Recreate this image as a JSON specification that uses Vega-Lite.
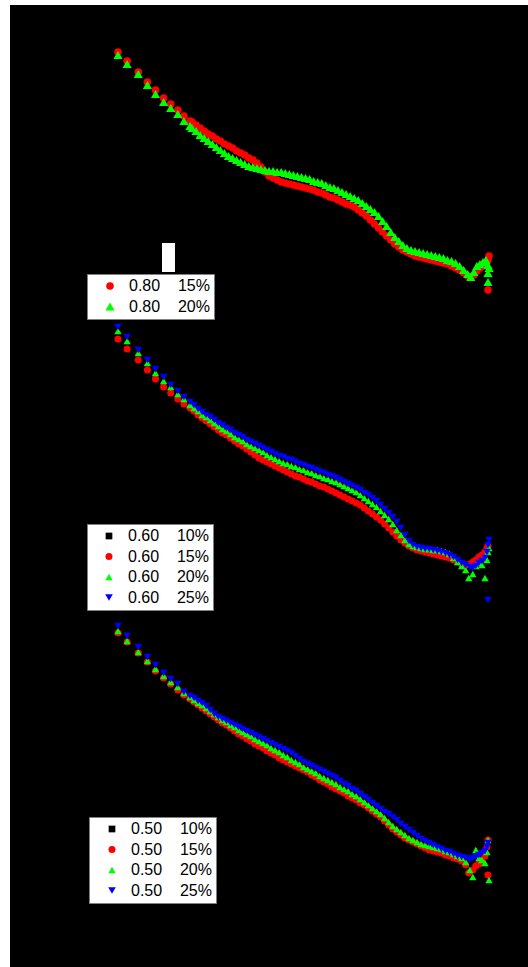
{
"$schema":"https://vega.github.io/schema/vega-lite/v6.json",
"background":"white",
"padding":{"left":10,"top":5,"right":0,"bottom":0},
"spacing":0,
"config":{"view":{"fill":"black","stroke":null}},
"resolve":{"scale":{"x":"independent","y":"independent","color":"independent","shape":"independent","size":"independent"}},
"vconcat":[
{"width":518,"height":315,
"layer":[
{"data":{"values":[{"x":160.4,"x2":173.2,"y":243,"y2":272}]},
"mark":{"type":"rect","color":"white"},
"encoding":{"x":{"field":"x","type":"quantitative","scale":{"domain":[10.46,521.46],"nice":false,"zero":false},"axis":null},"x2":{"field":"x2"},
"y":{"field":"y","type":"quantitative","scale":{"domain":[5,320],"reverse":true,"nice":false,"zero":false},"axis":null},"y2":{"field":"y2"}}},
{"data":{"values":[
{"s":"15%","x":117,"y":52},{"s":"15%","x":126,"y":61},{"s":"15%","x":137,"y":72},{"s":"15%","x":146,"y":82},{"s":"15%","x":154,"y":90},{"s":"15%","x":162,"y":98},{"s":"15%","x":169,"y":104},{"s":"15%","x":176,"y":110},{"s":"15%","x":182,"y":116},{"s":"15%","x":188,"y":121},
{"s":"15%","x":190,"y":122},{"s":"15%","x":194,"y":125},{"s":"15%","x":198,"y":128},{"s":"15%","x":202,"y":131},{"s":"15%","x":206,"y":134},{"s":"15%","x":210,"y":136},{"s":"15%","x":214,"y":139},{"s":"15%","x":218,"y":141},{"s":"15%","x":222,"y":144},{"s":"15%","x":226,"y":146},{"s":"15%","x":230,"y":148},{"s":"15%","x":234,"y":151},{"s":"15%","x":238,"y":153},{"s":"15%","x":242,"y":155},{"s":"15%","x":246,"y":158},{"s":"15%","x":250,"y":160},{"s":"15%","x":254,"y":163},{"s":"15%","x":258,"y":167},{"s":"15%","x":262,"y":172},{"s":"15%","x":266,"y":176},{"s":"15%","x":270,"y":178},{"s":"15%","x":274,"y":180},{"s":"15%","x":278,"y":182},{"s":"15%","x":282,"y":183},{"s":"15%","x":286,"y":184},{"s":"15%","x":290,"y":185},{"s":"15%","x":294,"y":186},{"s":"15%","x":298,"y":187},{"s":"15%","x":302,"y":188},{"s":"15%","x":306,"y":189},{"s":"15%","x":310,"y":190},{"s":"15%","x":314,"y":192},{"s":"15%","x":318,"y":193},{"s":"15%","x":322,"y":195},{"s":"15%","x":326,"y":197},{"s":"15%","x":330,"y":198},{"s":"15%","x":334,"y":200},{"s":"15%","x":338,"y":202},{"s":"15%","x":342,"y":204},{"s":"15%","x":346,"y":205},{"s":"15%","x":350,"y":207},{"s":"15%","x":354,"y":210},{"s":"15%","x":358,"y":213},{"s":"15%","x":362,"y":216},{"s":"15%","x":366,"y":220},{"s":"15%","x":370,"y":224},{"s":"15%","x":374,"y":228},{"s":"15%","x":378,"y":232},{"s":"15%","x":382,"y":236},{"s":"15%","x":386,"y":240},{"s":"15%","x":390,"y":244},{"s":"15%","x":394,"y":247},{"s":"15%","x":398,"y":250},{"s":"15%","x":402,"y":252},{"s":"15%","x":406,"y":254},{"s":"15%","x":410,"y":256},{"s":"15%","x":414,"y":257},{"s":"15%","x":418,"y":258},{"s":"15%","x":422,"y":259},{"s":"15%","x":426,"y":260},{"s":"15%","x":430,"y":261},{"s":"15%","x":434,"y":262},{"s":"15%","x":438,"y":263},{"s":"15%","x":442,"y":264},{"s":"15%","x":446,"y":266},{"s":"15%","x":450,"y":268},{"s":"15%","x":454,"y":270},{"s":"15%","x":458,"y":273},{"s":"15%","x":462,"y":276},{"s":"15%","x":465,"y":277},{"s":"15%","x":468,"y":275},{"s":"15%","x":471,"y":271},{"s":"15%","x":474,"y":268},{"s":"15%","x":477,"y":266},{"s":"15%","x":480,"y":263},{"s":"15%","x":482,"y":260},{"s":"15%","x":483,"y":256},{"s":"15%","x":482,"y":290},
{"s":"20%","x":117,"y":55},{"s":"20%","x":126,"y":64},{"s":"20%","x":137,"y":74},{"s":"20%","x":146,"y":85},{"s":"20%","x":154,"y":94},{"s":"20%","x":162,"y":102},{"s":"20%","x":169,"y":108},{"s":"20%","x":176,"y":114},{"s":"20%","x":182,"y":121},{"s":"20%","x":188,"y":126},
{"s":"20%","x":190,"y":128},{"s":"20%","x":194,"y":131},{"s":"20%","x":198,"y":135},{"s":"20%","x":202,"y":138},{"s":"20%","x":206,"y":141},{"s":"20%","x":210,"y":144},{"s":"20%","x":214,"y":147},{"s":"20%","x":218,"y":150},{"s":"20%","x":222,"y":153},{"s":"20%","x":226,"y":156},{"s":"20%","x":230,"y":158},{"s":"20%","x":234,"y":160},{"s":"20%","x":238,"y":162},{"s":"20%","x":242,"y":164},{"s":"20%","x":246,"y":166},{"s":"20%","x":250,"y":167},{"s":"20%","x":254,"y":168},{"s":"20%","x":258,"y":169},{"s":"20%","x":262,"y":170},{"s":"20%","x":266,"y":171},{"s":"20%","x":270,"y":171},{"s":"20%","x":274,"y":172},{"s":"20%","x":278,"y":172},{"s":"20%","x":282,"y":173},{"s":"20%","x":286,"y":174},{"s":"20%","x":290,"y":175},{"s":"20%","x":294,"y":176},{"s":"20%","x":298,"y":177},{"s":"20%","x":302,"y":178},{"s":"20%","x":306,"y":179},{"s":"20%","x":310,"y":181},{"s":"20%","x":314,"y":182},{"s":"20%","x":318,"y":183},{"s":"20%","x":322,"y":185},{"s":"20%","x":326,"y":187},{"s":"20%","x":330,"y":188},{"s":"20%","x":334,"y":190},{"s":"20%","x":338,"y":192},{"s":"20%","x":342,"y":194},{"s":"20%","x":346,"y":196},{"s":"20%","x":350,"y":198},{"s":"20%","x":354,"y":200},{"s":"20%","x":358,"y":203},{"s":"20%","x":362,"y":206},{"s":"20%","x":366,"y":209},{"s":"20%","x":370,"y":212},{"s":"20%","x":374,"y":216},{"s":"20%","x":378,"y":221},{"s":"20%","x":382,"y":226},{"s":"20%","x":386,"y":232},{"s":"20%","x":390,"y":237},{"s":"20%","x":394,"y":241},{"s":"20%","x":398,"y":245},{"s":"20%","x":402,"y":248},{"s":"20%","x":406,"y":250},{"s":"20%","x":410,"y":251},{"s":"20%","x":414,"y":252},{"s":"20%","x":418,"y":253},{"s":"20%","x":422,"y":254},{"s":"20%","x":426,"y":255},{"s":"20%","x":430,"y":256},{"s":"20%","x":434,"y":257},{"s":"20%","x":438,"y":258},{"s":"20%","x":442,"y":260},{"s":"20%","x":446,"y":261},{"s":"20%","x":450,"y":263},{"s":"20%","x":454,"y":266},{"s":"20%","x":458,"y":270},{"s":"20%","x":462,"y":274},{"s":"20%","x":465,"y":277},{"s":"20%","x":468,"y":272},{"s":"20%","x":471,"y":266},{"s":"20%","x":474,"y":264},{"s":"20%","x":477,"y":262},{"s":"20%","x":480,"y":260},{"s":"20%","x":482,"y":265},{"s":"20%","x":482,"y":273},{"s":"20%","x":482,"y":282},{"s":"20%","x":483,"y":268}
]},
"mark":{"type":"point","filled":true,"opacity":1,"strokeWidth":0},
"encoding":{
"x":{"field":"x","type":"quantitative","scale":{"domain":[10.46,521.46],"nice":false,"zero":false},"axis":null},
"y":{"field":"y","type":"quantitative","scale":{"domain":[5,320],"reverse":true,"nice":false,"zero":false},"axis":null},
"size":{"field":"s","type":"nominal","scale":{"domain":["15%","20%"],"range":[58,85]},"legend":null},
"color":{"field":"s","type":"nominal","scale":{"domain":["15%","20%"],"range":["#ff0000","#00ff00"]},
"legend":{"orient":"none","legendX":77,"legendY":269,"direction":"vertical","title":null,"fillColor":"white","strokeColor":"#808080","padding":4,"symbolOffset":11,"labelOffset":11,"labelFont":"Liberation Sans","labelFontSize":16,"labelColor":"black","symbolSize":40,"rowPadding":4.5,"symbolStrokeWidth":0,"labelExpr":"'0.80\u00a0\u00a0\u00a0\u00a0' + datum.label"}},
"shape":{"field":"s","type":"nominal","scale":{"domain":["15%","20%"],"range":["circle","triangle-up"]},
"legend":{"orient":"none","legendX":77,"legendY":269,"direction":"vertical","title":null,"fillColor":"white","strokeColor":"#808080","padding":4,"symbolOffset":11,"labelOffset":11,"labelFont":"Liberation Sans","labelFontSize":16,"labelColor":"black","symbolSize":40,"rowPadding":4.5,"symbolStrokeWidth":0,"labelExpr":"'0.80\u00a0\u00a0\u00a0\u00a0' + datum.label"}}
}}
]},
{"width":518,"height":295,
"data":{"values":[
{"s":"10%","x":117,"y":335},{"s":"10%","x":137,"y":356},{"s":"10%","x":162,"y":384},{"s":"10%","x":188,"y":406},{"s":"10%","x":220,"y":431},{"s":"10%","x":260,"y":456},{"s":"10%","x":300,"y":475},{"s":"10%","x":340,"y":492},{"s":"10%","x":380,"y":520},{"s":"10%","x":410,"y":549},{"s":"10%","x":440,"y":555},{"s":"10%","x":470,"y":563},
{"s":"15%","x":117,"y":339},{"s":"15%","x":126,"y":349},{"s":"15%","x":137,"y":360},{"s":"15%","x":146,"y":370},{"s":"15%","x":154,"y":379},{"s":"15%","x":162,"y":387},{"s":"15%","x":169,"y":393},{"s":"15%","x":176,"y":399},{"s":"15%","x":182,"y":404},
{"s":"15%","x":188,"y":408},{"s":"15%","x":192,"y":411},{"s":"15%","x":196,"y":415},{"s":"15%","x":200,"y":418},{"s":"15%","x":204,"y":421},{"s":"15%","x":208,"y":424},{"s":"15%","x":212,"y":427},{"s":"15%","x":216,"y":430},{"s":"15%","x":220,"y":433},{"s":"15%","x":224,"y":435},{"s":"15%","x":228,"y":438},{"s":"15%","x":232,"y":441},{"s":"15%","x":236,"y":444},{"s":"15%","x":240,"y":446},{"s":"15%","x":244,"y":449},{"s":"15%","x":248,"y":452},{"s":"15%","x":252,"y":455},{"s":"15%","x":256,"y":458},{"s":"15%","x":260,"y":460},{"s":"15%","x":264,"y":462},{"s":"15%","x":268,"y":464},{"s":"15%","x":272,"y":466},{"s":"15%","x":276,"y":468},{"s":"15%","x":280,"y":470},{"s":"15%","x":284,"y":472},{"s":"15%","x":288,"y":474},{"s":"15%","x":292,"y":476},{"s":"15%","x":296,"y":477},{"s":"15%","x":300,"y":479},{"s":"15%","x":304,"y":481},{"s":"15%","x":308,"y":482},{"s":"15%","x":312,"y":484},{"s":"15%","x":316,"y":486},{"s":"15%","x":320,"y":487},{"s":"15%","x":324,"y":489},{"s":"15%","x":328,"y":491},{"s":"15%","x":332,"y":493},{"s":"15%","x":336,"y":495},{"s":"15%","x":340,"y":497},{"s":"15%","x":344,"y":499},{"s":"15%","x":348,"y":501},{"s":"15%","x":352,"y":503},{"s":"15%","x":356,"y":505},{"s":"15%","x":360,"y":508},{"s":"15%","x":364,"y":511},{"s":"15%","x":368,"y":514},{"s":"15%","x":372,"y":517},{"s":"15%","x":376,"y":520},{"s":"15%","x":380,"y":524},{"s":"15%","x":384,"y":528},{"s":"15%","x":388,"y":532},{"s":"15%","x":392,"y":536},{"s":"15%","x":396,"y":540},{"s":"15%","x":400,"y":543},{"s":"15%","x":404,"y":546},{"s":"15%","x":408,"y":548},{"s":"15%","x":412,"y":550},{"s":"15%","x":416,"y":551},{"s":"15%","x":420,"y":552},{"s":"15%","x":424,"y":553},{"s":"15%","x":428,"y":554},{"s":"15%","x":432,"y":555},{"s":"15%","x":436,"y":556},{"s":"15%","x":440,"y":557},{"s":"15%","x":444,"y":558},{"s":"15%","x":448,"y":560},{"s":"15%","x":452,"y":562},{"s":"15%","x":456,"y":564},{"s":"15%","x":460,"y":565},{"s":"15%","x":464,"y":564},{"s":"15%","x":467,"y":562},{"s":"15%","x":470,"y":560},{"s":"15%","x":473,"y":557},{"s":"15%","x":476,"y":555},{"s":"15%","x":479,"y":552},{"s":"15%","x":481,"y":548},{"s":"15%","x":482,"y":546},
{"s":"20%","x":117,"y":331},{"s":"20%","x":126,"y":341},{"s":"20%","x":137,"y":353},{"s":"20%","x":146,"y":363},{"s":"20%","x":154,"y":373},{"s":"20%","x":162,"y":381},{"s":"20%","x":169,"y":387},{"s":"20%","x":176,"y":394},{"s":"20%","x":182,"y":399},
{"s":"20%","x":188,"y":405},{"s":"20%","x":192,"y":408},{"s":"20%","x":196,"y":411},{"s":"20%","x":200,"y":415},{"s":"20%","x":204,"y":417},{"s":"20%","x":208,"y":420},{"s":"20%","x":212,"y":423},{"s":"20%","x":216,"y":426},{"s":"20%","x":220,"y":429},{"s":"20%","x":224,"y":431},{"s":"20%","x":228,"y":434},{"s":"20%","x":232,"y":437},{"s":"20%","x":236,"y":439},{"s":"20%","x":240,"y":441},{"s":"20%","x":244,"y":444},{"s":"20%","x":248,"y":446},{"s":"20%","x":252,"y":448},{"s":"20%","x":256,"y":450},{"s":"20%","x":260,"y":452},{"s":"20%","x":264,"y":455},{"s":"20%","x":268,"y":457},{"s":"20%","x":272,"y":459},{"s":"20%","x":276,"y":461},{"s":"20%","x":280,"y":463},{"s":"20%","x":284,"y":464},{"s":"20%","x":288,"y":466},{"s":"20%","x":292,"y":467},{"s":"20%","x":296,"y":469},{"s":"20%","x":300,"y":470},{"s":"20%","x":304,"y":472},{"s":"20%","x":308,"y":473},{"s":"20%","x":312,"y":475},{"s":"20%","x":316,"y":476},{"s":"20%","x":320,"y":478},{"s":"20%","x":324,"y":479},{"s":"20%","x":328,"y":481},{"s":"20%","x":332,"y":482},{"s":"20%","x":336,"y":484},{"s":"20%","x":340,"y":486},{"s":"20%","x":344,"y":488},{"s":"20%","x":348,"y":490},{"s":"20%","x":352,"y":492},{"s":"20%","x":356,"y":495},{"s":"20%","x":360,"y":498},{"s":"20%","x":364,"y":501},{"s":"20%","x":368,"y":504},{"s":"20%","x":372,"y":507},{"s":"20%","x":376,"y":511},{"s":"20%","x":380,"y":515},{"s":"20%","x":384,"y":519},{"s":"20%","x":388,"y":524},{"s":"20%","x":392,"y":530},{"s":"20%","x":396,"y":535},{"s":"20%","x":400,"y":540},{"s":"20%","x":404,"y":544},{"s":"20%","x":408,"y":546},{"s":"20%","x":412,"y":547},{"s":"20%","x":416,"y":548},{"s":"20%","x":420,"y":549},{"s":"20%","x":424,"y":549},{"s":"20%","x":428,"y":550},{"s":"20%","x":432,"y":550},{"s":"20%","x":436,"y":551},{"s":"20%","x":440,"y":552},{"s":"20%","x":444,"y":554},{"s":"20%","x":448,"y":558},{"s":"20%","x":452,"y":562},{"s":"20%","x":456,"y":566},{"s":"20%","x":460,"y":570},{"s":"20%","x":463,"y":578},{"s":"20%","x":467,"y":574},{"s":"20%","x":470,"y":566},{"s":"20%","x":473,"y":563},{"s":"20%","x":476,"y":565},{"s":"20%","x":479,"y":578},{"s":"20%","x":481,"y":560},{"s":"20%","x":482,"y":552},{"s":"20%","x":483,"y":548},
{"s":"25%","x":117,"y":327},{"s":"25%","x":126,"y":337},{"s":"25%","x":137,"y":350},{"s":"25%","x":146,"y":360},{"s":"25%","x":154,"y":369},{"s":"25%","x":162,"y":377},{"s":"25%","x":169,"y":385},{"s":"25%","x":176,"y":391},{"s":"25%","x":182,"y":397},
{"s":"25%","x":188,"y":402},{"s":"25%","x":192,"y":405},{"s":"25%","x":196,"y":409},{"s":"25%","x":200,"y":412},{"s":"25%","x":204,"y":415},{"s":"25%","x":208,"y":417},{"s":"25%","x":212,"y":420},{"s":"25%","x":216,"y":423},{"s":"25%","x":220,"y":425},{"s":"25%","x":224,"y":428},{"s":"25%","x":228,"y":430},{"s":"25%","x":232,"y":433},{"s":"25%","x":236,"y":435},{"s":"25%","x":240,"y":437},{"s":"25%","x":244,"y":440},{"s":"25%","x":248,"y":442},{"s":"25%","x":252,"y":444},{"s":"25%","x":256,"y":446},{"s":"25%","x":260,"y":448},{"s":"25%","x":264,"y":450},{"s":"25%","x":268,"y":452},{"s":"25%","x":272,"y":454},{"s":"25%","x":276,"y":456},{"s":"25%","x":280,"y":457},{"s":"25%","x":284,"y":459},{"s":"25%","x":288,"y":460},{"s":"25%","x":292,"y":462},{"s":"25%","x":296,"y":464},{"s":"25%","x":300,"y":465},{"s":"25%","x":304,"y":467},{"s":"25%","x":308,"y":468},{"s":"25%","x":312,"y":470},{"s":"25%","x":316,"y":472},{"s":"25%","x":320,"y":473},{"s":"25%","x":324,"y":475},{"s":"25%","x":328,"y":476},{"s":"25%","x":332,"y":478},{"s":"25%","x":336,"y":480},{"s":"25%","x":340,"y":482},{"s":"25%","x":344,"y":484},{"s":"25%","x":348,"y":486},{"s":"25%","x":352,"y":488},{"s":"25%","x":356,"y":490},{"s":"25%","x":360,"y":493},{"s":"25%","x":364,"y":495},{"s":"25%","x":368,"y":498},{"s":"25%","x":372,"y":501},{"s":"25%","x":376,"y":505},{"s":"25%","x":380,"y":509},{"s":"25%","x":384,"y":513},{"s":"25%","x":388,"y":517},{"s":"25%","x":392,"y":522},{"s":"25%","x":396,"y":528},{"s":"25%","x":400,"y":535},{"s":"25%","x":404,"y":541},{"s":"25%","x":408,"y":545},{"s":"25%","x":412,"y":547},{"s":"25%","x":416,"y":548},{"s":"25%","x":420,"y":549},{"s":"25%","x":424,"y":549},{"s":"25%","x":428,"y":550},{"s":"25%","x":432,"y":551},{"s":"25%","x":436,"y":552},{"s":"25%","x":440,"y":553},{"s":"25%","x":444,"y":555},{"s":"25%","x":448,"y":557},{"s":"25%","x":452,"y":560},{"s":"25%","x":456,"y":563},{"s":"25%","x":460,"y":565},{"s":"25%","x":464,"y":567},{"s":"25%","x":467,"y":568},{"s":"25%","x":470,"y":566},{"s":"25%","x":473,"y":563},{"s":"25%","x":476,"y":561},{"s":"25%","x":479,"y":558},{"s":"25%","x":481,"y":552},{"s":"25%","x":482,"y":545},{"s":"25%","x":483,"y":540},{"s":"25%","x":482,"y":600}
]},
"mark":{"type":"point","filled":true,"opacity":1,"strokeWidth":0},
"encoding":{
"x":{"field":"x","type":"quantitative","scale":{"domain":[10.46,521.46],"nice":false,"zero":false},"axis":null},
"y":{"field":"y","type":"quantitative","scale":{"domain":[320,615],"reverse":true,"nice":false,"zero":false},"axis":null},
"size":{"field":"s","type":"nominal","scale":{"domain":["10%","15%","20%","25%"],"range":[45,58,85,85]},"legend":null},
"color":{"field":"s","type":"nominal","scale":{"domain":["10%","15%","20%","25%"],"range":["#000000","#ff0000","#00ff00","#0000ff"]},
"legend":{"orient":"none","legendX":77,"legendY":204,"direction":"vertical","title":null,"fillColor":"white","strokeColor":"#808080","padding":4,"symbolOffset":10,"labelOffset":11,"labelFont":"Liberation Sans","labelFontSize":16,"labelColor":"black","symbolSize":40,"rowPadding":4.5,"symbolStrokeWidth":0,"labelExpr":"'0.60\u00a0\u00a0\u00a0\u00a0' + datum.label"}},
"shape":{"field":"s","type":"nominal","scale":{"domain":["10%","15%","20%","25%"],"range":["square","circle","triangle-up","triangle-down"]},
"legend":{"orient":"none","legendX":77,"legendY":204,"direction":"vertical","title":null,"fillColor":"white","strokeColor":"#808080","padding":4,"symbolOffset":10,"labelOffset":11,"labelFont":"Liberation Sans","labelFontSize":16,"labelColor":"black","symbolSize":40,"rowPadding":4.5,"symbolStrokeWidth":0,"labelExpr":"'0.60\u00a0\u00a0\u00a0\u00a0' + datum.label"}}
}},
{"width":518,"height":352,
"data":{"values":[
{"s":"10%","x":117,"y":630},{"s":"10%","x":137,"y":651},{"s":"10%","x":162,"y":677},{"s":"10%","x":188,"y":698},{"s":"10%","x":220,"y":722},{"s":"10%","x":260,"y":746},{"s":"10%","x":300,"y":769},{"s":"10%","x":340,"y":791},{"s":"10%","x":380,"y":819},{"s":"10%","x":410,"y":843},{"s":"10%","x":440,"y":853},{"s":"10%","x":470,"y":860},
{"s":"15%","x":117,"y":633},{"s":"15%","x":126,"y":642},{"s":"15%","x":137,"y":653},{"s":"15%","x":146,"y":662},{"s":"15%","x":154,"y":671},{"s":"15%","x":162,"y":678},{"s":"15%","x":169,"y":684},{"s":"15%","x":176,"y":690},{"s":"15%","x":182,"y":695},
{"s":"15%","x":188,"y":699},{"s":"15%","x":192,"y":702},{"s":"15%","x":196,"y":705},{"s":"15%","x":200,"y":708},{"s":"15%","x":204,"y":711},{"s":"15%","x":208,"y":714},{"s":"15%","x":212,"y":717},{"s":"15%","x":216,"y":720},{"s":"15%","x":220,"y":723},{"s":"15%","x":224,"y":725},{"s":"15%","x":228,"y":728},{"s":"15%","x":232,"y":731},{"s":"15%","x":236,"y":734},{"s":"15%","x":240,"y":736},{"s":"15%","x":244,"y":739},{"s":"15%","x":248,"y":741},{"s":"15%","x":252,"y":744},{"s":"15%","x":256,"y":746},{"s":"15%","x":260,"y":748},{"s":"15%","x":264,"y":751},{"s":"15%","x":268,"y":753},{"s":"15%","x":272,"y":755},{"s":"15%","x":276,"y":758},{"s":"15%","x":280,"y":760},{"s":"15%","x":284,"y":762},{"s":"15%","x":288,"y":764},{"s":"15%","x":292,"y":766},{"s":"15%","x":296,"y":768},{"s":"15%","x":300,"y":770},{"s":"15%","x":304,"y":772},{"s":"15%","x":308,"y":775},{"s":"15%","x":312,"y":777},{"s":"15%","x":316,"y":780},{"s":"15%","x":320,"y":782},{"s":"15%","x":324,"y":784},{"s":"15%","x":328,"y":787},{"s":"15%","x":332,"y":789},{"s":"15%","x":336,"y":791},{"s":"15%","x":340,"y":793},{"s":"15%","x":344,"y":796},{"s":"15%","x":348,"y":798},{"s":"15%","x":352,"y":800},{"s":"15%","x":356,"y":803},{"s":"15%","x":360,"y":805},{"s":"15%","x":364,"y":808},{"s":"15%","x":368,"y":811},{"s":"15%","x":372,"y":814},{"s":"15%","x":376,"y":817},{"s":"15%","x":380,"y":821},{"s":"15%","x":384,"y":825},{"s":"15%","x":388,"y":829},{"s":"15%","x":392,"y":832},{"s":"15%","x":396,"y":835},{"s":"15%","x":400,"y":838},{"s":"15%","x":404,"y":840},{"s":"15%","x":408,"y":842},{"s":"15%","x":412,"y":844},{"s":"15%","x":416,"y":846},{"s":"15%","x":420,"y":848},{"s":"15%","x":424,"y":850},{"s":"15%","x":428,"y":851},{"s":"15%","x":432,"y":852},{"s":"15%","x":436,"y":853},{"s":"15%","x":440,"y":855},{"s":"15%","x":444,"y":856},{"s":"15%","x":448,"y":858},{"s":"15%","x":452,"y":859},{"s":"15%","x":456,"y":861},{"s":"15%","x":460,"y":865},{"s":"15%","x":463,"y":873},{"s":"15%","x":467,"y":870},{"s":"15%","x":470,"y":866},{"s":"15%","x":473,"y":864},{"s":"15%","x":476,"y":860},{"s":"15%","x":479,"y":856},{"s":"15%","x":481,"y":847},{"s":"15%","x":482,"y":840},{"s":"15%","x":482,"y":875},
{"s":"20%","x":117,"y":631},{"s":"20%","x":126,"y":641},{"s":"20%","x":137,"y":652},{"s":"20%","x":146,"y":661},{"s":"20%","x":154,"y":669},{"s":"20%","x":162,"y":676},{"s":"20%","x":169,"y":682},{"s":"20%","x":176,"y":687},{"s":"20%","x":182,"y":693},
{"s":"20%","x":188,"y":697},{"s":"20%","x":192,"y":700},{"s":"20%","x":196,"y":703},{"s":"20%","x":200,"y":705},{"s":"20%","x":204,"y":708},{"s":"20%","x":208,"y":711},{"s":"20%","x":212,"y":714},{"s":"20%","x":216,"y":717},{"s":"20%","x":220,"y":720},{"s":"20%","x":224,"y":722},{"s":"20%","x":228,"y":725},{"s":"20%","x":232,"y":727},{"s":"20%","x":236,"y":730},{"s":"20%","x":240,"y":732},{"s":"20%","x":244,"y":734},{"s":"20%","x":248,"y":736},{"s":"20%","x":252,"y":739},{"s":"20%","x":256,"y":741},{"s":"20%","x":260,"y":743},{"s":"20%","x":264,"y":745},{"s":"20%","x":268,"y":748},{"s":"20%","x":272,"y":750},{"s":"20%","x":276,"y":752},{"s":"20%","x":280,"y":755},{"s":"20%","x":284,"y":757},{"s":"20%","x":288,"y":760},{"s":"20%","x":292,"y":762},{"s":"20%","x":296,"y":764},{"s":"20%","x":300,"y":767},{"s":"20%","x":304,"y":769},{"s":"20%","x":308,"y":771},{"s":"20%","x":312,"y":773},{"s":"20%","x":316,"y":776},{"s":"20%","x":320,"y":778},{"s":"20%","x":324,"y":780},{"s":"20%","x":328,"y":782},{"s":"20%","x":332,"y":784},{"s":"20%","x":336,"y":787},{"s":"20%","x":340,"y":789},{"s":"20%","x":344,"y":791},{"s":"20%","x":348,"y":794},{"s":"20%","x":352,"y":796},{"s":"20%","x":356,"y":799},{"s":"20%","x":360,"y":802},{"s":"20%","x":364,"y":805},{"s":"20%","x":368,"y":808},{"s":"20%","x":372,"y":811},{"s":"20%","x":376,"y":814},{"s":"20%","x":380,"y":818},{"s":"20%","x":384,"y":822},{"s":"20%","x":388,"y":826},{"s":"20%","x":392,"y":829},{"s":"20%","x":396,"y":832},{"s":"20%","x":400,"y":835},{"s":"20%","x":404,"y":838},{"s":"20%","x":408,"y":840},{"s":"20%","x":412,"y":842},{"s":"20%","x":416,"y":844},{"s":"20%","x":420,"y":845},{"s":"20%","x":424,"y":846},{"s":"20%","x":428,"y":847},{"s":"20%","x":432,"y":848},{"s":"20%","x":436,"y":849},{"s":"20%","x":440,"y":851},{"s":"20%","x":444,"y":852},{"s":"20%","x":448,"y":854},{"s":"20%","x":452,"y":856},{"s":"20%","x":456,"y":858},{"s":"20%","x":460,"y":862},{"s":"20%","x":464,"y":870},{"s":"20%","x":467,"y":877},{"s":"20%","x":470,"y":850},{"s":"20%","x":473,"y":858},{"s":"20%","x":476,"y":860},{"s":"20%","x":479,"y":863},{"s":"20%","x":481,"y":852},{"s":"20%","x":482,"y":840},{"s":"20%","x":483,"y":880},
{"s":"25%","x":117,"y":626},{"s":"25%","x":126,"y":636},{"s":"25%","x":137,"y":647},{"s":"25%","x":146,"y":657},{"s":"25%","x":154,"y":665},{"s":"25%","x":162,"y":673},{"s":"25%","x":169,"y":679},{"s":"25%","x":176,"y":684},{"s":"25%","x":182,"y":692},
{"s":"25%","x":188,"y":696},{"s":"25%","x":192,"y":698},{"s":"25%","x":196,"y":701},{"s":"25%","x":200,"y":703},{"s":"25%","x":204,"y":706},{"s":"25%","x":208,"y":710},{"s":"25%","x":212,"y":714},{"s":"25%","x":216,"y":717},{"s":"25%","x":220,"y":719},{"s":"25%","x":224,"y":721},{"s":"25%","x":228,"y":723},{"s":"25%","x":232,"y":725},{"s":"25%","x":236,"y":727},{"s":"25%","x":240,"y":729},{"s":"25%","x":244,"y":731},{"s":"25%","x":248,"y":733},{"s":"25%","x":252,"y":735},{"s":"25%","x":256,"y":737},{"s":"25%","x":260,"y":739},{"s":"25%","x":264,"y":741},{"s":"25%","x":268,"y":743},{"s":"25%","x":272,"y":745},{"s":"25%","x":276,"y":747},{"s":"25%","x":280,"y":749},{"s":"25%","x":284,"y":751},{"s":"25%","x":288,"y":753},{"s":"25%","x":292,"y":756},{"s":"25%","x":296,"y":759},{"s":"25%","x":300,"y":762},{"s":"25%","x":304,"y":764},{"s":"25%","x":308,"y":766},{"s":"25%","x":312,"y":768},{"s":"25%","x":316,"y":770},{"s":"25%","x":320,"y":772},{"s":"25%","x":324,"y":774},{"s":"25%","x":328,"y":776},{"s":"25%","x":332,"y":778},{"s":"25%","x":336,"y":781},{"s":"25%","x":340,"y":784},{"s":"25%","x":344,"y":786},{"s":"25%","x":348,"y":789},{"s":"25%","x":352,"y":791},{"s":"25%","x":356,"y":794},{"s":"25%","x":360,"y":797},{"s":"25%","x":364,"y":800},{"s":"25%","x":368,"y":803},{"s":"25%","x":372,"y":806},{"s":"25%","x":376,"y":809},{"s":"25%","x":380,"y":812},{"s":"25%","x":384,"y":814},{"s":"25%","x":388,"y":817},{"s":"25%","x":392,"y":820},{"s":"25%","x":396,"y":824},{"s":"25%","x":400,"y":827},{"s":"25%","x":404,"y":830},{"s":"25%","x":408,"y":833},{"s":"25%","x":412,"y":836},{"s":"25%","x":416,"y":839},{"s":"25%","x":420,"y":841},{"s":"25%","x":424,"y":843},{"s":"25%","x":428,"y":845},{"s":"25%","x":432,"y":847},{"s":"25%","x":436,"y":849},{"s":"25%","x":440,"y":851},{"s":"25%","x":444,"y":852},{"s":"25%","x":448,"y":854},{"s":"25%","x":452,"y":856},{"s":"25%","x":456,"y":857},{"s":"25%","x":460,"y":858},{"s":"25%","x":464,"y":860},{"s":"25%","x":467,"y":858},{"s":"25%","x":470,"y":857},{"s":"25%","x":473,"y":855},{"s":"25%","x":476,"y":853},{"s":"25%","x":479,"y":851},{"s":"25%","x":481,"y":847},{"s":"25%","x":482,"y":843}
]},
"mark":{"type":"point","filled":true,"opacity":1,"strokeWidth":0},
"encoding":{
"x":{"field":"x","type":"quantitative","scale":{"domain":[10.46,521.46],"nice":false,"zero":false},"axis":null},
"y":{"field":"y","type":"quantitative","scale":{"domain":[615,967],"reverse":true,"nice":false,"zero":false},"axis":null},
"size":{"field":"s","type":"nominal","scale":{"domain":["10%","15%","20%","25%"],"range":[45,58,85,85]},"legend":null},
"color":{"field":"s","type":"nominal","scale":{"domain":["10%","15%","20%","25%"],"range":["#000000","#ff0000","#00ff00","#0000ff"]},
"legend":{"orient":"none","legendX":79,"legendY":202,"direction":"vertical","title":null,"fillColor":"white","strokeColor":"#808080","padding":4,"symbolOffset":11,"labelOffset":11,"labelFont":"Liberation Sans","labelFontSize":16,"labelColor":"black","symbolSize":40,"rowPadding":4.5,"symbolStrokeWidth":0,"labelExpr":"'0.50\u00a0\u00a0\u00a0\u00a0' + datum.label"}},
"shape":{"field":"s","type":"nominal","scale":{"domain":["10%","15%","20%","25%"],"range":["square","circle","triangle-up","triangle-down"]},
"legend":{"orient":"none","legendX":79,"legendY":202,"direction":"vertical","title":null,"fillColor":"white","strokeColor":"#808080","padding":4,"symbolOffset":11,"labelOffset":11,"labelFont":"Liberation Sans","labelFontSize":16,"labelColor":"black","symbolSize":40,"rowPadding":4.5,"symbolStrokeWidth":0,"labelExpr":"'0.50\u00a0\u00a0\u00a0\u00a0' + datum.label"}}
}}
]
}
